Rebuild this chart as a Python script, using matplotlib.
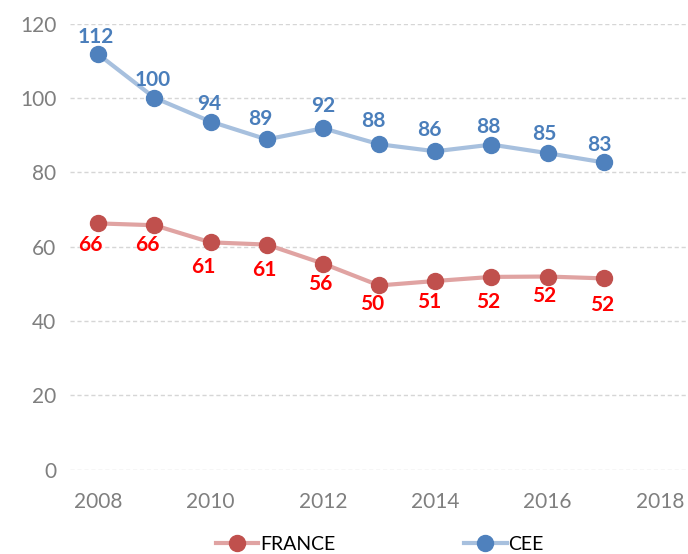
import matplotlib
matplotlib.use("Agg")
import matplotlib.pyplot as plt

plt.rcParams['font.family'] = ['Lato', 'DejaVu Sans']

years = [2008, 2009, 2010, 2011, 2012, 2013, 2014, 2015, 2016, 2017]
france = [66.3, 65.8, 61.2, 60.6, 55.5, 49.6, 50.8, 51.9, 52.0, 51.5]
cee = [111.8, 100.1, 93.7, 88.9, 91.9, 87.6, 85.7, 87.5, 85.2, 82.7]
france_labels = ["66", "66", "61", "61", "56", "50", "51", "52", "52", "52"]
cee_labels = ["112", "100", "94", "89", "92", "88", "86", "88", "85", "83"]
xticks = [2008, 2010, 2012, 2014, 2016, 2018]
yticks = [0, 20, 40, 60, 80, 100, 120]

# label offsets (pixels), style only
fr_off = [(-8, -22), (-7, -20), (-7, -25), (-2, -25), (-3, -20),
          (-7, -19), (-6, -21), (-3, -25), (-3, -19), (-2, -27)]
ce_off = [(-2, 17), (-2, 18), (-1, 18), (-6, 20), (0, 22),
          (-6, 23), (-6, 21), (-3, 18), (-3, 19), (-4, 17)]

fig = plt.figure(figsize=(6.88, 5.54), dpi=100)
ax = fig.add_axes([0.102, 0.152, 0.898, 0.805])

ax.plot(years, france, color='#E0A3A2', lw=3, marker='o', ms=11.5,
        mfc='#C0504D', mec='#C0504D', label='FRANCE', zorder=3)
ax.plot(years, cee, color='#A7C0DE', lw=3, marker='o', ms=11.5,
        mfc='#4F81BD', mec='#4F81BD', label='CEE', zorder=3)

k = 0.72
for x, y, t, (dx, dy) in zip(years, france, france_labels, fr_off):
    ax.annotate(t, (x, y), xytext=(dx * k, dy * k), textcoords='offset points',
                ha='center', va='center', color='#FF0000', fontsize=15, fontweight='bold')
for x, y, t, (dx, dy) in zip(years, cee, cee_labels, ce_off):
    ax.annotate(t, (x, y), xytext=(dx * k, dy * k), textcoords='offset points',
                ha='center', va='center', color='#4A7EBB', fontsize=15, fontweight='bold')

ax.set_xlim(2007.5, 2018.5)
ax.set_ylim(0, 120)
ax.set_xticks(xticks)
ax.set_yticks(yticks)
ax.tick_params(length=0, labelsize=15, labelcolor='#7F7F7F')
ax.tick_params(axis='x', pad=16)
ax.tick_params(axis='y', pad=10)
for s in ax.spines.values():
    s.set_visible(False)
ax.yaxis.grid(True, color='#D6D6D6', ls=(0, (3, 2)), lw=1)
ax.set_axisbelow(True)

fig.legend(loc='lower center', bbox_to_anchor=(0.552, -0.03), ncol=2, frameon=False,
           fontsize=14, handlelength=2.2, handletextpad=0.1, columnspacing=6.6)

fig.savefig('out.png', dpi=100)
